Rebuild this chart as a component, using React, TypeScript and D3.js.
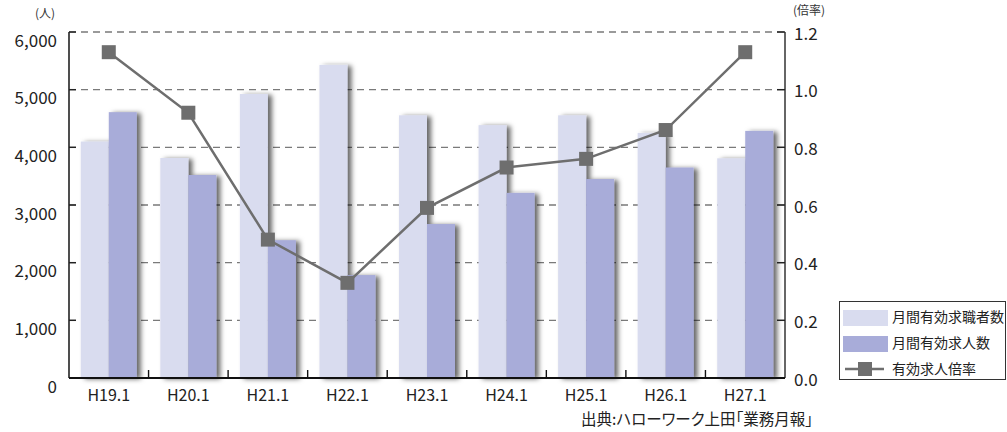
import React from "react";
import * as d3 from "d3";

const categories = ["H19.1", "H20.1", "H21.1", "H22.1", "H23.1", "H24.1", "H25.1", "H26.1", "H27.1"];
const jobSeekers = [4100, 3815, 4925, 5430, 4555, 4385, 4555, 4250, 3810];
const jobOffers = [4610, 3520, 2390, 1785, 2670, 3210, 3450, 3650, 4285];
const ratio = [1.13, 0.92, 0.48, 0.33, 0.59, 0.73, 0.76, 0.86, 1.13];
const leftTicks = [0, 1000, 2000, 3000, 4000, 5000, 6000];
const rightTicks = [0, 0.2, 0.4, 0.6, 0.8, 1.0, 1.2];
const legendLabels = ["月間有効求職者数", "月間有効求人数", "有効求人倍率"];
const sourceNote = "出典:ハローワーク上田「業務月報」";

const W = 1007;
const H = 432;
const plot = { left: 69, right: 785, top: 32, bottom: 378 };
const FONT = "'Noto Sans CJK JP', 'Noto Sans', sans-serif";
const LIGHT = "#d9dcef";
const DARK = "#a8acd9";
const LINE = "#6e6e6e";

export default function App() {
  const x = d3.scaleBand<string>().domain(categories).range([plot.left, plot.right]).padding(0);
  const yL = d3.scaleLinear().domain([0, 6000]).range([plot.bottom, plot.top]);
  const yR = d3.scaleLinear().domain([0, 1.2]).range([plot.bottom, plot.top]);
  const barW = 28;
  const fmt = d3.format(",");
  const line = d3
    .line<number>()
    .x((_, i) => x(categories[i])! + x.bandwidth() / 2)
    .y((d) => yR(d));
  const mk = 14;

  return (
    <svg
      width={W}
      height={H}
      style={{ position: "absolute", left: 0, top: 0, background: "#fff" }}
      fontFamily={FONT}
    >
      <defs>
        <filter id="barShadow" x="-30%" y="-10%" width="170%" height="120%">
          <feDropShadow dx="4" dy="1" stdDeviation="2.5" floodColor="#000" floodOpacity="0.6" />
        </filter>
      </defs>

      {/* dashed gridlines */}
      {leftTicks.slice(1).map((t) => (
        <line
          key={t}
          x1={plot.left}
          x2={plot.right}
          y1={yL(t)}
          y2={yL(t)}
          stroke="#7a7a7a"
          strokeWidth={1.3}
          strokeDasharray="7,5"
        />
      ))}

      {/* bars */}
      {categories.map((c, i) => {
        const x0 = x(c)! + x.bandwidth() / 2 - barW;
        return (
          <g key={c}>
            <rect
              x={x0}
              y={yL(jobSeekers[i])}
              width={barW}
              height={plot.bottom - yL(jobSeekers[i])}
              fill={LIGHT}
              filter="url(#barShadow)"
            />
            <rect
              x={x0 + barW}
              y={yL(jobOffers[i])}
              width={barW}
              height={plot.bottom - yL(jobOffers[i])}
              fill={DARK}
              filter="url(#barShadow)"
            />
          </g>
        );
      })}

      {/* left axis */}
      <line x1={plot.left} x2={plot.left} y1={plot.top} y2={plot.bottom} stroke="#222" strokeWidth={1.6} />
      {leftTicks.map((t) => (
        <g key={t}>
          <line x1={plot.left} x2={plot.left + 7} y1={yL(t)} y2={yL(t)} stroke="#222" strokeWidth={1.4} />
          <text x={57} y={yL(t) + 7} textAnchor="end" dominantBaseline="central" fontSize={17} fill="#222">
            {fmt(t)}
          </text>
        </g>
      ))}
      <text x={45} y={18} textAnchor="middle" fontSize={12} fill="#333">
        (人)
      </text>

      {/* right axis */}
      <line x1={plot.right} x2={plot.right} y1={plot.top} y2={plot.bottom} stroke="#666" strokeWidth={2} />
      {rightTicks.map((t) => (
        <g key={t}>
          <line x1={plot.right - 8} x2={plot.right} y1={yR(t)} y2={yR(t)} stroke="#222" strokeWidth={1.4} />
          <text x={794} y={yR(t)} textAnchor="start" dominantBaseline="central" fontSize={17} fill="#222">
            {t.toFixed(1)}
          </text>
        </g>
      ))}
      <text x={809} y={15} textAnchor="middle" fontSize={12} fill="#333">
        (倍率)
      </text>

      {/* bottom axis */}
      <line x1={plot.left} x2={plot.right} y1={plot.bottom} y2={plot.bottom} stroke="#111" strokeWidth={2} />
      {categories.slice(1).map((c) => (
        <line key={c} x1={x(c)!} x2={x(c)!} y1={plot.bottom} y2={plot.bottom - 8} stroke="#111" strokeWidth={1.4} />
      ))}
      {categories.map((c) => (
        <text
          key={c}
          x={x(c)! + x.bandwidth() / 2}
          y={394}
          textAnchor="middle"
          dominantBaseline="central"
          fontSize={16}
          fill="#222"
        >
          {c}
        </text>
      ))}

      {/* ratio line */}
      <path d={line(ratio)!} fill="none" stroke={LINE} strokeWidth={2.5} />
      {ratio.map((r, i) => (
        <rect
          key={i}
          x={x(categories[i])! + x.bandwidth() / 2 - mk / 2}
          y={yR(r) - mk / 2}
          width={mk}
          height={mk}
          fill={LINE}
        />
      ))}

      {/* legend */}
      <rect x={839.5} y={301.5} width={166} height={78} fill="#fff" stroke="#333" strokeWidth={1} />
      <rect x={843} y={310} width={45} height={16} fill={LIGHT} />
      <rect x={843} y={336} width={45} height={16} fill={DARK} />
      <line x1={845} x2={884} y1={369} y2={369} stroke={LINE} strokeWidth={2.5} />
      <rect x={858} y={362} width={14} height={14} fill={LINE} />
      {legendLabels.map((l, i) => (
        <text key={l} x={892} y={316 + i * 26} dominantBaseline="central" fontSize={14} fill="#222">
          {l}
        </text>
      ))}

      {/* source */}
      <text
        x={581}
        y={418}
        dominantBaseline="central"
        fontSize={15.5}
        fill="#222"
        style={{ fontFeatureSettings: '"palt"' }}
      >
        {sourceNote}
      </text>
    </svg>
  );
}
